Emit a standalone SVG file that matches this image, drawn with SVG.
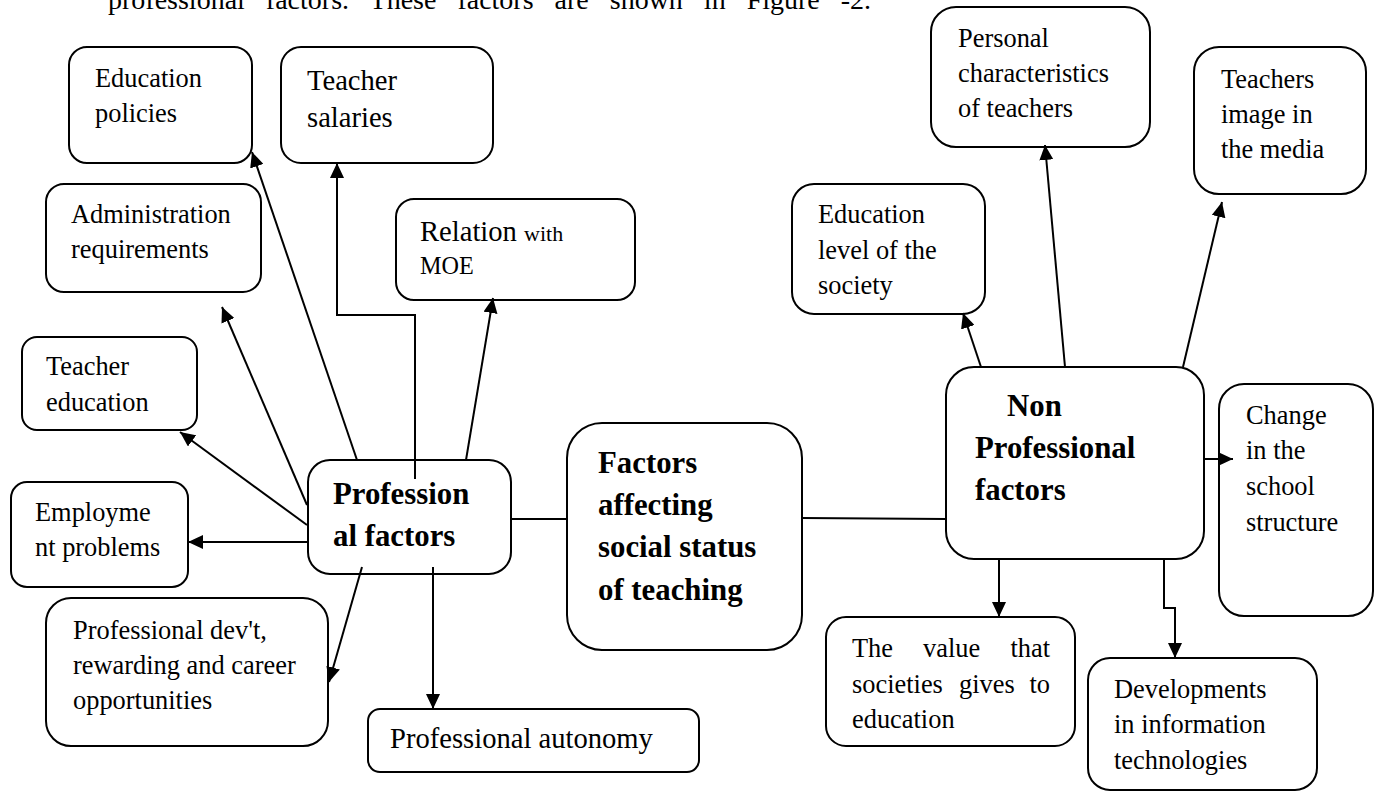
<svg xmlns="http://www.w3.org/2000/svg" width="1380" height="792" viewBox="0 0 1380 792">
  <style>
    .box { fill: #ffffff; stroke: #000000; stroke-width: 2; }
    .link { fill: none; stroke: #000000; stroke-width: 2; }
    .arrow { fill: none; stroke: #000000; stroke-width: 2; marker-end: url(#head); }
    text { font-family: "Liberation Serif", "Times New Roman", serif; fill: #000000; }
    .t { font-size: 26.4px; }
    .tl { font-size: 28.6px; }
    .b { font-size: 30.8px; font-weight: bold; }
  </style>
  <defs>
    <marker id="head" markerUnits="userSpaceOnUse" markerWidth="16" markerHeight="14" refX="15" refY="7" orient="auto">
      <path d="M0,0 L15,7 L0,14 Z" fill="#000000"/>
    </marker>
  </defs>

  <rect width="1380" height="792" fill="#ffffff"/>

  <!-- running text above the figure -->
  <text x="108" y="9" font-size="28" word-spacing="14">professional factors. These factors are shown in Figure -2.</text>

  <!-- centre -->
  <g id="node-center">
    <rect class="box" x="567" y="423" width="235" height="227" rx="35"/>
    <text class="b" x="598" y="473">Factors</text>
    <text class="b" x="598" y="515">affecting</text>
    <text class="b" x="598" y="557">social status</text>
    <text class="b" x="598" y="600">of teaching</text>
  </g>

  <!-- professional branch -->
  <g id="node-professional">
    <rect class="box" x="308" y="460" width="203" height="114" rx="22"/>
    <text class="b" x="333" y="504">Profession</text>
    <text class="b" x="333" y="546">al factors</text>
  </g>
  <g id="node-education-policies">
    <rect class="box" x="69" y="47" width="183" height="116" rx="18"/>
    <text class="t" x="95" y="87">Education</text>
    <text class="t" x="95" y="122">policies</text>
  </g>
  <g id="node-teacher-salaries">
    <rect class="box" x="281" y="47" width="212" height="116" rx="20"/>
    <text class="tl" x="307" y="90">Teacher</text>
    <text class="tl" x="307" y="127">salaries</text>
  </g>
  <g id="node-administration">
    <rect class="box" x="46" y="184" width="215" height="108" rx="18"/>
    <text class="t" x="71" y="223">Administration</text>
    <text class="t" x="71" y="258">requirements</text>
  </g>
  <g id="node-relation-moe">
    <rect class="box" x="396" y="199" width="239" height="101" rx="18"/>
    <text x="420" y="241"><tspan font-size="28.6">Relation </tspan><tspan font-size="22">with</tspan></text>
    <text x="420" y="274" font-size="24.2">MOE</text>
  </g>
  <g id="node-teacher-education">
    <rect class="box" x="22" y="337" width="175" height="93" rx="15"/>
    <text class="t" x="46" y="375">Teacher</text>
    <text class="t" x="46" y="411">education</text>
  </g>
  <g id="node-employment">
    <rect class="box" x="11" y="482" width="177" height="105" rx="16"/>
    <text class="t" x="35" y="521">Employme</text>
    <text class="t" x="35" y="556">nt problems</text>
  </g>
  <g id="node-professional-development">
    <rect class="box" x="46" y="598" width="282" height="148" rx="25"/>
    <text class="t" x="73" y="639">Professional dev't,</text>
    <text class="t" x="73" y="674">rewarding and career</text>
    <text class="t" x="73" y="709">opportunities</text>
  </g>
  <g id="node-professional-autonomy">
    <rect class="box" x="368" y="709" width="331" height="63" rx="12"/>
    <text class="tl" x="390" y="748">Professional autonomy</text>
  </g>

  <!-- non professional branch -->
  <g id="node-non-professional">
    <rect class="box" x="946" y="367" width="258" height="192" rx="28"/>
    <text class="b" x="1007" y="416">Non</text>
    <text class="b" x="975" y="458">Professional</text>
    <text class="b" x="975" y="500">factors</text>
  </g>
  <g id="node-education-level">
    <rect class="box" x="792" y="184" width="193" height="130" rx="22"/>
    <text class="t" x="818" y="223">Education</text>
    <text class="t" x="818" y="259">level of the</text>
    <text class="t" x="818" y="294">society</text>
  </g>
  <g id="node-personal">
    <rect class="box" x="931" y="7" width="219" height="140" rx="25"/>
    <text class="t" x="958" y="47">Personal</text>
    <text class="t" x="958" y="82">characteristics</text>
    <text class="t" x="958" y="117">of teachers</text>
  </g>
  <g id="node-media-image">
    <rect class="box" x="1194" y="47" width="172" height="147" rx="25"/>
    <text class="t" x="1221" y="88">Teachers</text>
    <text class="t" x="1221" y="123">image in</text>
    <text class="t" x="1221" y="158">the media</text>
  </g>
  <g id="node-school-structure">
    <rect class="box" x="1219" y="384" width="154" height="232" rx="25"/>
    <text class="t" x="1246" y="424">Change</text>
    <text class="t" x="1246" y="459">in the</text>
    <text class="t" x="1246" y="495">school</text>
    <text class="t" x="1246" y="531">structure</text>
  </g>
  <g id="node-value-education">
    <rect class="box" x="826" y="617" width="249" height="129" rx="20"/>
    <text class="t" x="852" y="657">The</text>
    <text class="t" x="923" y="657">value</text>
    <text class="t" x="1050" y="657" text-anchor="end">that</text>
    <text class="t" x="852" y="693">societies</text>
    <text class="t" x="959" y="693">gives</text>
    <text class="t" x="1050" y="693" text-anchor="end">to</text>
    <text class="t" x="852" y="728">education</text>
  </g>
  <g id="node-information-technologies">
    <rect class="box" x="1088" y="658" width="229" height="132" rx="22"/>
    <text class="t" x="1114" y="698">Developments</text>
    <text class="t" x="1114" y="733">in information</text>
    <text class="t" x="1114" y="769">technologies</text>
  </g>

  <!-- connectors -->
  <g id="connectors">
    <line class="link" x1="511" y1="519" x2="567" y2="519"/>
    <line class="link" x1="802" y1="518" x2="946" y2="519"/>

    <line class="arrow" x1="357" y1="460" x2="252" y2="152"/>
    <polyline class="arrow" points="415,479 415,315 337,315 337,163"/>
    <line class="arrow" x1="466" y1="460" x2="493" y2="298"/>
    <line class="arrow" x1="307" y1="505" x2="222" y2="307"/>
    <line class="arrow" x1="307" y1="525" x2="180" y2="432"/>
    <line class="arrow" x1="308" y1="542" x2="188" y2="542"/>
    <line class="arrow" x1="362" y1="567" x2="329" y2="682"/>
    <line class="arrow" x1="433" y1="567" x2="433" y2="709"/>

    <line class="arrow" x1="981" y1="367" x2="963" y2="313"/>
    <line class="arrow" x1="1065" y1="367" x2="1045" y2="145"/>
    <line class="arrow" x1="1183" y1="367" x2="1222" y2="202"/>
    <line class="arrow" x1="1204" y1="459" x2="1233" y2="459"/>
    <line class="arrow" x1="999" y1="559" x2="999" y2="617"/>
    <polyline class="arrow" points="1164,559 1164,608 1175,608 1175,658"/>
  </g>
</svg>
